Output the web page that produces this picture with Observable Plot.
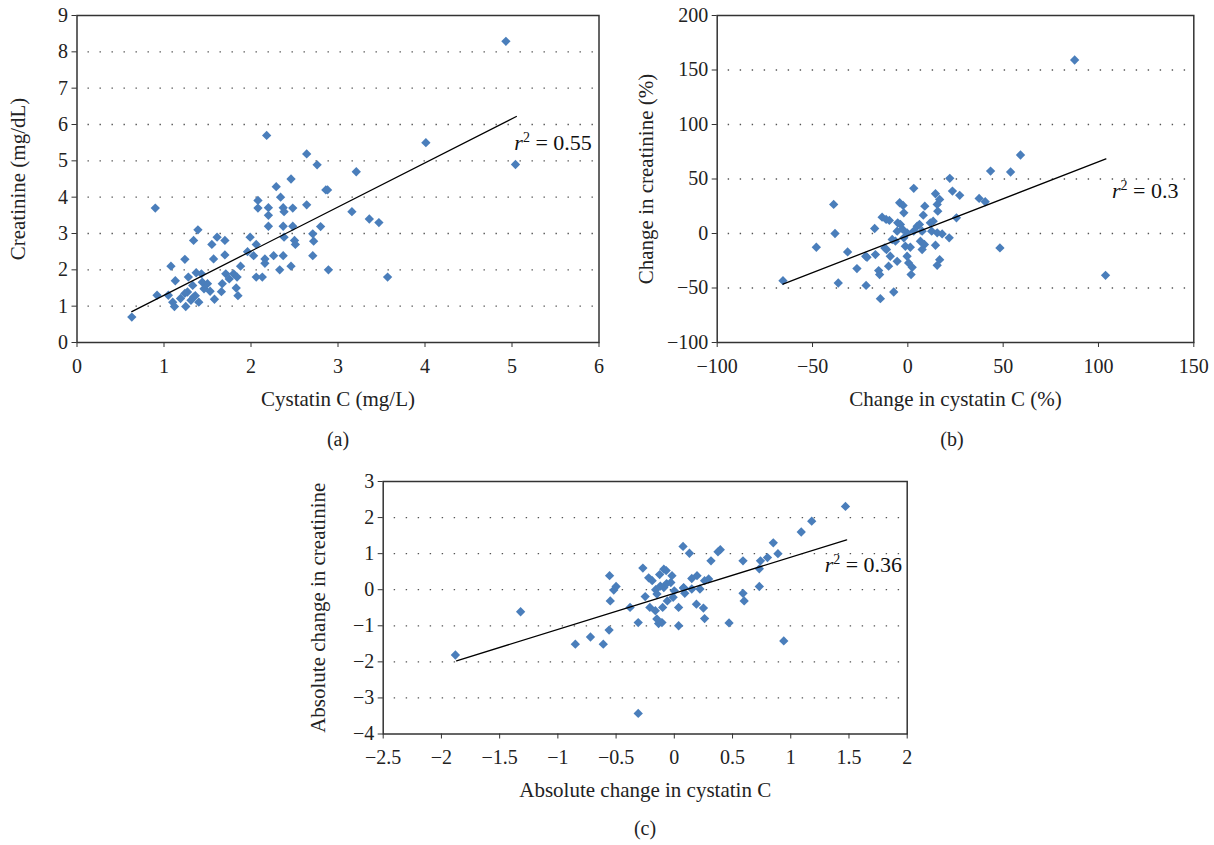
<!DOCTYPE html>
<html>
<head>
<meta charset="utf-8">
<script src="https://cdn.jsdelivr.net/npm/d3@7"></script>
<script src="https://cdn.jsdelivr.net/npm/@observablehq/plot@0.6"></script>
<style>
  html, body { margin: 0; padding: 0; background: #fff; }
  #root { position: relative; width: 1214px; height: 845px; font-family: "Liberation Serif", "DejaVu Serif", serif; color: #222; }
  .panel { position: absolute; }
  .cap { position: absolute; width: 100px; text-align: center; font-size: 20px; line-height: 24px; }
</style>
</head>
<body>
<div id="root"></div>
<script>
// ---------------- data ----------------
// (a) Cystatin C (mg/L) vs Creatinine (mg/dL)
const cystatinA = [
  0.63,0.90,0.92,1.05,1.08,1.13,1.10,1.12,1.19,1.24,
  1.25,1.28,1.27,1.24,1.33,1.34,1.39,1.37,1.43,1.34,
  1.31,1.40,1.36,1.44,1.46,1.50,1.53,1.58,1.57,1.55,
  1.61,1.70,1.70,1.66,1.67,1.71,1.75,1.80,1.84,1.83,
  1.85,1.88,1.99,1.96,2.03,2.06,2.06,2.13,2.08,2.08,
  2.18,2.20,2.20,2.20,2.16,2.16,2.26,2.29,2.34,2.37,
  2.38,2.37,2.38,2.37,2.33,2.46,2.48,2.48,2.50,2.51,
  2.46,2.64,2.64,2.71,2.72,2.71,2.76,2.80,2.86,2.88,
  2.89,3.21,3.16,3.36,3.47,3.57,4.01,4.93,5.04
];
const creatinineA = [
  0.70,3.70,1.30,1.30,2.10,1.70,1.11,0.99,1.21,2.29,
  0.99,1.80,1.39,1.35,1.57,2.81,3.10,1.92,1.89,1.25,
  1.16,1.11,1.29,1.66,1.48,1.62,1.41,1.19,2.30,2.70,
  2.90,2.81,2.41,1.40,1.62,1.89,1.75,1.89,1.80,1.50,
  1.29,2.10,2.90,2.50,2.39,2.70,1.80,1.80,3.91,3.70,
  5.70,3.71,3.50,3.20,2.30,2.18,2.39,4.29,4.00,3.71,
  3.60,3.20,2.90,2.39,2.00,4.50,3.70,3.20,2.81,2.70,
  2.10,5.19,3.79,2.99,2.79,2.39,4.89,3.19,4.20,4.20,
  2.00,4.70,3.60,3.40,3.30,1.80,5.50,8.29,4.90
];
// (b) Change in cystatin C (%) vs change in creatinine (%)
const changeCystatinB = [
  -65.5,-38.9,-38.2,-48.0,-36.5,-31.6,-26.7,-21.9,-22.1,-21.4,
  -17.4,-17.0,-15.3,-14.8,-14.4,-13.5,-11.4,-9.7,-12.1,-11.2,
  -9.2,-10.1,-7.4,-8.2,-6.5,-5.6,-5.6,-5.3,-4.3,-2.5,
  -2.1,-3.9,-2.8,-2.1,-0.4,-1.3,1.3,-0.4,0.4,2.3,
  1.7,3.1,3.1,4.9,6.1,7.5,8.1,6.6,7.5,8.9,
  8.7,11.8,12.5,13.3,14.5,15.4,15.7,16.7,15.4,18.0,
  14.5,16.7,15.4,21.7,22.0,23.4,25.5,27.2,37.4,40.6,
  43.4,48.3,53.9,59.1,87.5,103.7
];
const changeCreatinineB = [
  -43.3,26.7,0.0,-12.6,-45.4,-16.9,-32.2,-47.6,-20.9,-21.8,
  4.6,-19.3,-34.0,-37.7,-59.8,15.0,12.9,12.0,-13.2,-14.7,
  -20.9,-30.0,-53.7,-5.5,-7.0,-25.5,2.1,9.8,28.2,25.8,
  19.0,8.3,4.0,-4.0,0.6,-11.7,-12.6,-20.9,-27.0,-31.0,
  -37.7,41.4,2.2,6.7,8.3,2.1,16.8,-7.1,-14.7,25.1,
  -10.1,9.8,2.1,11.3,36.5,26.7,20.5,31.3,0.6,-0.4,
  -10.8,-24.0,-29.2,-4.0,50.6,38.9,14.4,35.0,32.2,29.1,
  57.3,-13.2,56.4,72.0,159.2,-38.4
];
// (c) Absolute change in cystatin C vs absolute change in creatinine
const absCystatinC = [
  -1.88,-1.32,-0.85,-0.72,-0.61,-0.56,-0.556,-0.55,-0.52,-0.50,
  -0.31,-0.163,-0.135,-0.149,-0.07,-0.09,-0.066,1.47,1.18,1.09,
  0.85,0.89,0.80,0.74,0.73,0.73,0.59,0.59,0.60,0.94,
  0.47,0.395,0.375,0.315,0.295,0.26,0.22,0.25,0.26,0.19,
  0.195,0.15,0.13,0.075,0.08,0.09,0.037,0.037,0.00,-0.02,
  -0.03,-0.06,-0.10,-0.106,-0.15,-0.09,-0.126,-0.19,-0.22,-0.27,
  -0.25,-0.21,-0.31,-0.38,-0.16,-0.12,-0.01,0.08,0.15
];
const absCreatinineC = [
  -1.81,-0.61,-1.51,-1.31,-1.51,-1.12,0.39,-0.31,-0.01,0.09,
  -3.43,-0.58,-0.94,-0.12,0.53,0.06,0.17,2.31,1.90,1.60,
  1.30,1.00,0.89,0.80,0.58,0.09,0.80,-0.10,-0.31,-1.42,
  -0.92,1.11,1.05,0.80,0.30,0.25,0.02,-0.51,-0.80,-0.40,
  0.39,0.31,1.01,1.20,0.06,-0.10,-0.49,-1.00,-0.03,0.39,
  0.20,-0.31,-0.49,-0.91,-0.81,0.57,0.42,0.25,0.33,0.60,
  -0.19,-0.49,-0.91,-0.49,0.00,0.10,-0.21,0.04,0.02
];
// fitted trend lines (end points)
const trendAx = [0.63, 5.05],  trendAy = [0.85, 6.22];
const trendBx = [-65.5, 103.9], trendBy = [-46.4, 68.4];
const trendCx = [-1.87, 1.48], trendCy = [-1.97, 1.38];
const r2Values = ["0.55", "0.3", "0.36"];
// axes
const xTicksA = [0,1,2,3,4,5,6],            yTicksA = [0,1,2,3,4,5,6,7,8,9];
const xTicksB = [-100,-50,0,50,100,150],    yTicksB = [-100,-50,0,50,100,150,200];
const xTicksC = [-2.5,-2,-1.5,-1,-0.5,0,0.5,1,1.5,2], yTicksC = [-4,-3,-2,-1,0,1,2,3];
const gridA = [1,2,3,4,5,6,7,8];
const gridB = [-50,0,50,100,150];
const gridC = [-3,-2,-1,0,1,2];
const xLabels = ["Cystatin C (mg/L)", "Change in cystatin C (%)", "Absolute change in cystatin C"];
const yLabels = ["Creatinine (mg/dL)", "Change in creatinine (%)", "Absolute change in creatinine"];
const captions = ["(a)", "(b)", "(c)"];

// ---------------- drawing ----------------
const FONT = '"Liberation Serif", "DejaVu Serif", serif';
const BLUE = "#4a7ebb";
const fmt = d3.format("~g");

function panel(cfg) {
  const pts = cfg.xs.map((x, i) => ({x, y: cfg.ys[i]}));
  const trend = cfg.tx.map((x, i) => ({x, y: cfg.ty[i]}));
  const end = trend[trend.length - 1];
  return Plot.plot({
    width: cfg.width, height: cfg.height,
    marginLeft: cfg.ml, marginRight: cfg.mr, marginTop: cfg.mt, marginBottom: cfg.mb,
    style: {fontFamily: FONT, fontSize: "20px", color: "#222", background: "white", overflow: "visible"},
    x: {domain: [cfg.xTicks[0], cfg.xTicks[cfg.xTicks.length - 1]]},
    y: {domain: [cfg.yTicks[0], cfg.yTicks[cfg.yTicks.length - 1]]},
    marks: [
      Plot.ruleY(cfg.grid, {stroke: "#555", strokeWidth: 1.3, strokeDasharray: "1.4,10.6", strokeDashoffset: -11}),
      Plot.frame({stroke: "#333", strokeWidth: 1.5}),
      Plot.axisX(cfg.xTicks, {tickSize: 5, tickPadding: 11, tickFormat: fmt, stroke: "#333", fontSize: 20, label: null}),
      Plot.axisY(cfg.yTicks, {tickSize: 5, tickPadding: 4, tickFormat: fmt, stroke: "#333", fontSize: 20, label: null}),
      Plot.axisX([], {tickSize: 0, fontSize: 21,
        label: cfg.xLabel, labelAnchor: "center", labelOffset: cfg.xlo, labelArrow: false}),
      Plot.axisY([], {tickSize: 0, fontSize: 21,
        label: cfg.yLabel, labelAnchor: "center", labelOffset: cfg.ylo, labelArrow: false}),
      Plot.dot(pts, {x: "x", y: "y", symbol: "diamond2", r: 4.2, fill: BLUE, stroke: "none"}),
      Plot.line(trend, {x: "x", y: "y", stroke: "#000", strokeWidth: 1.3}),
      Plot.text([end], {x: "x", y: "y", text: () => "r² = " + cfg.r2, dx: cfg.ldx, dy: cfg.ldy,
        textAnchor: "start", lineAnchor: "bottom", fontSize: 22, fill: "#111"})
    ]
  });
}

function styleR2(svg) {
  const NS = "http://www.w3.org/2000/svg";
  svg.querySelectorAll("text").forEach(t => {
    const m = /^r² = (.*)$/.exec(t.textContent);
    if (!m) return;
    while (t.firstChild) t.removeChild(t.firstChild);
    const a = document.createElementNS(NS, "tspan");
    a.setAttribute("font-style", "italic"); a.textContent = "r";
    const b = document.createElementNS(NS, "tspan");
    b.setAttribute("dy", "-8"); b.setAttribute("font-size", "14"); b.textContent = "2";
    const c = document.createElementNS(NS, "tspan");
    c.setAttribute("dy", "8"); c.textContent = " = " + m[1];
    t.append(a, b, c);
  });
}

const root = document.getElementById("root");
const cfgs = [
  {left: 0, top: 0, width: 612, height: 420, ml: 76.5, mr: 13.5, mt: 15, mb: 78,
   xs: cystatinA, ys: creatinineA, tx: trendAx, ty: trendAy, r2: r2Values[0],
   xTicks: xTicksA, yTicks: yTicksA, grid: gridA, xLabel: xLabels[0], yLabel: yLabels[0],
   xlo: 63, ylo: 67, ldx: -2, ldy: 33},
  {left: 612, top: 0, width: 602, height: 420, ml: 104.7, mr: 20.7, mt: 15, mb: 78,
   xs: changeCystatinB, ys: changeCreatinineB, tx: trendBx, ty: trendBy, r2: r2Values[1],
   xTicks: xTicksB, yTicks: yTicksB, grid: gridB, xLabel: xLabels[1], yLabel: yLabels[1],
   xlo: 63, ylo: 79, ldx: 6, ldy: 39},
  {left: 290, top: 460, width: 630, height: 350, ml: 92.7, mr: 13.3, mt: 21, mb: 76.5,
   xs: absCystatinC, ys: absCreatinineC, tx: trendCx, ty: trendCy, r2: r2Values[2],
   xTicks: xTicksC, yTicks: yTicksC, grid: gridC, xLabel: xLabels[2], yLabel: yLabels[2],
   xlo: 63, ylo: 73, ldx: -22, ldy: 32}
];
const capPos = [[338, 439], [952, 439], [645, 828]];

cfgs.forEach((cfg, i) => {
  const wrap = document.createElement("div");
  wrap.className = "panel";
  wrap.style.left = cfg.left + "px";
  wrap.style.top = cfg.top + "px";
  const svg = panel(cfg);
  styleR2(svg);
  wrap.appendChild(svg);
  root.appendChild(wrap);
  const cap = document.createElement("div");
  cap.className = "cap";
  cap.textContent = captions[i];
  cap.style.left = (capPos[i][0] - 50) + "px";
  cap.style.top = (capPos[i][1] - 12) + "px";
  root.appendChild(cap);
});
</script>
</body>
</html>
